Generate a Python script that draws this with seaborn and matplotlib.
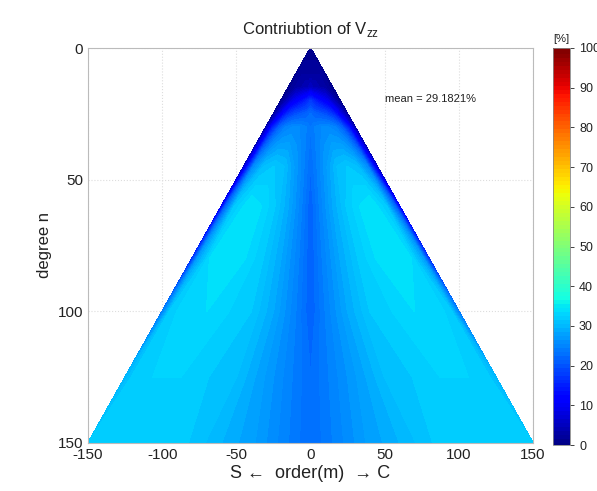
import numpy as np
import matplotlib
matplotlib.use("Agg")
import matplotlib.pyplot as plt
import seaborn as sns

# ---- data ----
degrees = [0, 5, 10, 15, 20, 25, 30, 45, 60, 80, 100, 125, 150]
ratios = [0.0, 0.1, 0.25, 0.4, 0.55, 0.7, 0.85, 0.95, 1.0]   # |m| / n
contrib = [
    [2, 2, 2, 2, 2, 2, 2, 2, 2],
    [2, 2, 2, 2, 2, 2, 2, 2, 2],
    [3, 3, 3, 3, 3, 3, 2, 2, 2],
    [6, 5, 5, 4, 4, 3, 2, 2, 2],
    [18, 16, 14, 12, 10, 7, 4, 2, 2],
    [23, 22, 21, 20, 18, 14, 8, 4, 2],
    [24, 25, 26, 26, 25, 22, 15, 7, 3],
    [23, 25, 28, 31, 32, 31, 26, 13, 5],
    [22, 25, 29, 32, 34, 35, 32, 22, 10],
    [22, 25, 29, 32, 34, 35, 34, 28, 16],
    [22, 25, 29, 32, 33, 34, 34, 32, 24],
    [23, 25, 28, 31, 32, 33, 33, 33, 30],
    [23, 25, 28, 30, 32, 33, 33, 33, 32],
]
x_ticks = [-150, -100, -50, 0, 50, 100, 150]
y_ticks = [0, 50, 100, 150]
cbar_ticks = [0, 10, 20, 30, 40, 50, 60, 70, 80, 90, 100]
mean_text = "mean = 29.1821%"

# ---- build full (mirrored) grid ----
r = np.array(ratios)
r_full = np.concatenate([-r[::-1], r[1:]])
V = np.array(contrib, dtype=float)
V_full = np.concatenate([V[:, ::-1], V[:, 1:]], axis=1)
N = np.array(degrees, dtype=float)
X = r_full[None, :] * N[:, None]
Y = np.repeat(N[:, None], len(r_full), axis=1)

sns.set_theme(style="white")
plt.rcParams['font.family'] = ['Liberation Sans', 'DejaVu Sans']
plt.rcParams['axes.unicode_minus'] = False
plt.rcParams['mathtext.fontset'] = 'custom'
plt.rcParams['mathtext.rm'] = 'Liberation Sans'

fig = plt.figure(figsize=(5.97, 4.91), dpi=100)
ax = fig.add_axes([88/597, 1-443/491, 445/597, 395/491])
cax = fig.add_axes([553/597, 1-445/491, 17/597, 397/491])

cmap = matplotlib.colormaps["jet"]
cf = ax.contourf(X, Y, V_full, levels=np.linspace(0, 100, 101), cmap=cmap,
                 vmin=0, vmax=100)
cf.set_edgecolor("face")
cf.set_linewidth(0.4)

ax.set_xlim(-150, 150)
ax.set_ylim(150, 0)
ax.set_xticks(x_ticks)
ax.set_yticks(y_ticks)
ax.grid(True, color="#dddddd", linestyle=":", linewidth=0.8)
ax.set_axisbelow(True)
for s in ax.spines.values():
    s.set_color("#bbbbbb")
    s.set_linewidth(0.8)
ax.tick_params(axis="both", labelsize=11, labelcolor="#222222", length=3,
               direction="in", width=0.6, color="#bbbbbb")
ax.set_title("Contriubtion of V$_{\\mathrm{zz}}$", fontsize=12, color="#222222", pad=10)
ax.set_xlabel("S \u2190  order(m)  \u2192 C", fontsize=13,
              color="#222222", labelpad=2)
ax.set_ylabel("degree n", fontsize=12, color="#222222", labelpad=4)
ax.text(50, 19.5, mean_text, fontsize=8, color="#222222", va="center", ha="left")

cb = fig.colorbar(cf, cax=cax, ticks=cbar_ticks)
cb.solids.set_edgecolor("face")
cb.outline.set_edgecolor("#888888")
cb.outline.set_linewidth(0.6)
cax.tick_params(labelsize=9, length=3, colors="#222222", width=0.6)
cax.set_title("[%]", fontsize=8, color="#222222", pad=4)

fig.savefig("out.png", dpi=100)
